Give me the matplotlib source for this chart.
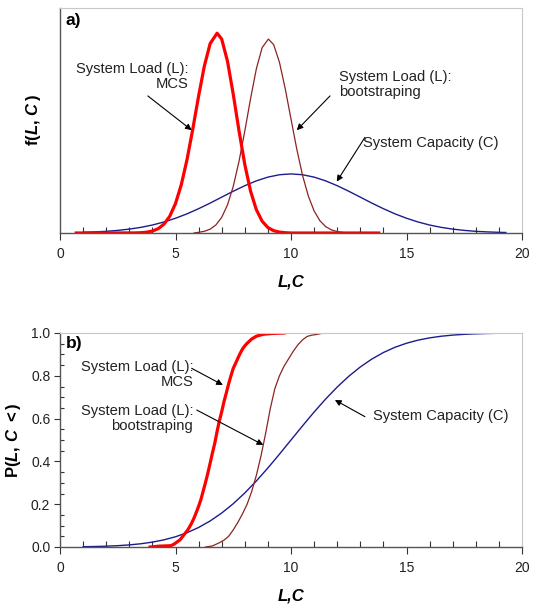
import matplotlib
matplotlib.use("Agg")
import matplotlib.pyplot as plt
from matplotlib.ticker import MultipleLocator, NullLocator

plt.rcParams['font.family'] = ['Liberation Sans', 'DejaVu Sans']
plt.rcParams['mathtext.fontset'] = 'custom'
plt.rcParams['mathtext.rm'] = 'Liberation Sans:bold'
plt.rcParams['mathtext.it'] = 'Liberation Sans:bold:italic'
plt.rcParams['mathtext.bf'] = 'Liberation Sans:bold'

# ---------------- panel a) : densities ----------------
pdf_mcs_x = [0.7, 3.25, 3.5, 3.75, 4.0, 4.25, 4.5, 4.75, 5.0, 5.25, 5.5, 5.75, 6.0, 6.25,
             6.5, 6.8, 7.0, 7.25, 7.5, 7.75, 8.0, 8.25, 8.5, 8.75, 9.0, 9.25, 9.5, 9.75,
             10.0, 13.8]
pdf_mcs_y = [0.0, 0.0002, 0.0007, 0.0018, 0.0043, 0.0095, 0.0195, 0.037, 0.0653, 0.107,
             0.163, 0.231, 0.3035, 0.3705, 0.420, 0.443, 0.430, 0.381, 0.3077, 0.2265,
             0.1519, 0.0928, 0.0517, 0.0262, 0.0121, 0.0051, 0.002, 0.0007, 0.0, 0.0]

pdf_boot_x = [5.8, 6.0, 6.25, 6.5, 6.75, 7.0, 7.25, 7.5, 7.75, 8.0, 8.25, 8.5, 8.75, 9.02,
              9.25, 9.5, 9.75, 10.0, 10.25, 10.5, 10.75, 11.0, 11.25, 11.5, 11.75, 12.0,
              12.25, 12.5]
pdf_boot_y = [0.0, 0.0015, 0.0038, 0.0085, 0.0179, 0.0347, 0.0622, 0.1033, 0.159, 0.226,
              0.298, 0.364, 0.411, 0.430, 0.4176, 0.3785, 0.320, 0.2526, 0.186, 0.1278,
              0.0819, 0.049, 0.0273, 0.0142, 0.0069, 0.0031, 0.0012, 0.0]

pdf_cap_x = [1.0, 1.5, 2.0, 2.5, 3.0, 3.5, 4.0, 4.5, 5.0, 5.5, 6.0, 6.5, 7.0, 7.5, 8.0,
             8.5, 9.0, 9.5, 10.0, 10.5, 11.0, 11.5, 12.0, 12.5, 13.0, 13.5, 14.0, 14.5,
             15.0, 15.5, 16.0, 16.5, 17.0, 17.5, 18.0, 18.5, 19.0, 19.3]
pdf_cap_y = [0.0015, 0.0024, 0.0037, 0.0058, 0.0086, 0.0125, 0.0177, 0.0244, 0.0327,
             0.0425, 0.0539, 0.0663, 0.0795, 0.0926, 0.1049, 0.1156, 0.1239, 0.1292,
             0.131, 0.1292, 0.1239, 0.1156, 0.1049, 0.0926, 0.0795, 0.0663, 0.0539,
             0.0425, 0.0327, 0.0244, 0.0177, 0.0125, 0.0086, 0.0058, 0.0037, 0.0024,
             0.0015, 0.0011]

# ---------------- panel b) : cumulative ----------------
cdf_mcs_x = [3.9, 4.3, 4.8, 4.95, 5.1, 5.2, 5.3, 5.4, 5.5, 5.6, 5.7, 5.8, 5.9, 6.0, 6.1,
             6.2, 6.3, 6.4, 6.5, 6.6, 6.7, 6.8, 6.9, 7.0, 7.1, 7.2, 7.3, 7.4, 7.5, 7.6,
             7.7, 7.8, 7.9, 8.0, 8.1, 8.3, 8.5, 8.8, 9.2, 9.7]
cdf_mcs_y = [0.0, 0.004, 0.006, 0.014, 0.026, 0.034, 0.048, 0.062, 0.075, 0.092, 0.112,
             0.135, 0.162, 0.19, 0.222, 0.262, 0.302, 0.345, 0.392, 0.44, 0.485, 0.54,
             0.59, 0.632, 0.68, 0.72, 0.762, 0.80, 0.835, 0.858, 0.882, 0.905, 0.925,
             0.94, 0.952, 0.972, 0.985, 0.994, 0.998, 1.0]

cdf_boot_x = [6.3, 6.6, 6.9, 7.1, 7.3, 7.5, 7.7, 7.9, 8.1, 8.3, 8.5, 8.7, 8.9, 9.1, 9.3,
              9.5, 9.7, 9.9, 10.1, 10.3, 10.5, 10.7, 10.9, 11.1, 11.4]
cdf_boot_y = [0.0, 0.005, 0.02, 0.032, 0.05, 0.08, 0.115, 0.155, 0.2, 0.26, 0.335, 0.425,
              0.53, 0.645, 0.74, 0.80, 0.845, 0.88, 0.915, 0.945, 0.968, 0.984, 0.99,
              0.993, 1.0]

cdf_cap_x = pdf_cap_x
cdf_cap_y = [0.0014, 0.0023, 0.0038, 0.0062, 0.0098, 0.0151, 0.0228, 0.0334, 0.0478,
             0.0668, 0.0912, 0.1217, 0.1587, 0.2023, 0.2525, 0.3085, 0.3694, 0.4338,
             0.5, 0.5662, 0.6306, 0.6915, 0.7475, 0.7977, 0.8413, 0.8783, 0.9088,
             0.9332, 0.9522, 0.9666, 0.9772, 0.9849, 0.9902, 0.9938, 0.9962, 0.9977,
             0.9987, 0.9991]

RED = '#ff0000'
BROWN = '#8b2323'
BLUE = '#1c1c8c'

fig = plt.figure(figsize=(5.36, 6.09), dpi=100)
ax1 = fig.add_axes([60/536, 1-233/609, 462/536, 225.5/609])
ax2 = fig.add_axes([60/536, 1-547/609, 462/536, 214/609])

def style(ax):
    ax.set_xlim(0, 20)
    ax.xaxis.set_major_locator(MultipleLocator(5))
    ax.xaxis.set_minor_locator(MultipleLocator(1))
    ax.tick_params(axis='x', which='major', direction='out', length=5, width=0.8,
                   colors='#333333', labelsize=10, pad=5, labelcolor='#222222')
    ax.tick_params(axis='x', which='minor', direction='in', length=4, width=0.8,
                   colors='#333333')
    for s in ('left', 'bottom'):
        ax.spines[s].set_color('#555555')
        ax.spines[s].set_linewidth(1.0)
    for s in ('top', 'right'):
        ax.spines[s].set_color('#c8c8c8')
        ax.spines[s].set_linewidth(0.8)
    ax.set_xlabel('L,C', fontsize=12, fontweight='bold', style='italic', labelpad=10)

arrow = dict(arrowstyle='-|>', color='black', lw=0.8, mutation_scale=9,
             shrinkA=0, shrinkB=0)
fs = 10.6

# panel a
ax1.plot(pdf_cap_x, pdf_cap_y, color=BLUE, lw=1.0)
ax1.plot(pdf_boot_x, pdf_boot_y, color=BROWN, lw=0.9)
ax1.plot(pdf_mcs_x, pdf_mcs_y, color=RED, lw=2.3)
ax1.set_ylim(0, 0.5)
ax1.yaxis.set_major_locator(NullLocator())
style(ax1)
ax1.set_ylabel(r'$\mathrm{f(}\mathit{L}\mathrm{,}\ \mathit{C}\,\mathrm{)}$', fontsize=12, labelpad=12)
ax1.text(0.012, 0.975, 'a)', transform=ax1.transAxes, fontsize=12.5, fontweight='bold',
         va='top', ha='left')
ax1.annotate('', xy=(5.70, 0.228), xytext=(3.80, 0.304), arrowprops=arrow)
ax1.text(5.55, 0.348, 'System Load (L):\nMCS', ha='right', va='center', fontsize=fs,
         multialignment='right', linespacing=1.1, color='#222222')
ax1.annotate('', xy=(10.25, 0.228), xytext=(11.69, 0.304), arrowprops=arrow)
ax1.text(12.09, 0.330, 'System Load (L):\nbootstraping', ha='left', va='center',
         fontsize=fs, linespacing=1.1, color='#222222')
ax1.annotate('', xy=(11.98, 0.114), xytext=(13.2, 0.212), arrowprops=arrow)
ax1.text(13.13, 0.199, 'System Capacity (C)', ha='left', va='center', fontsize=fs,
         color='#222222')

# panel b
ax2.plot(cdf_cap_x, cdf_cap_y, color=BLUE, lw=1.0)
ax2.plot(cdf_boot_x, cdf_boot_y, color=BROWN, lw=0.9)
ax2.plot(cdf_mcs_x, cdf_mcs_y, color=RED, lw=2.3)
ax2.set_ylim(0, 1.0)
ax2.yaxis.set_major_locator(MultipleLocator(0.2))
ax2.yaxis.set_minor_locator(MultipleLocator(0.05))
ax2.yaxis.set_major_formatter(matplotlib.ticker.FormatStrFormatter('%.1f'))
ax2.tick_params(axis='y', which='major', direction='out', length=4, width=0.8,
                colors='#333333', labelsize=10, pad=3, labelcolor='#222222')
ax2.tick_params(axis='y', which='minor', direction='in', length=3, width=0.8,
                colors='#333333')
style(ax2)
ax2.set_ylabel(r'$\mathrm{P(}\mathit{L}\mathrm{,}\ \mathit{C}\ \mathrm{<)}$', fontsize=12, labelpad=6)
ax2.text(0.012, 0.985, 'b)', transform=ax2.transAxes, fontsize=12.5, fontweight='bold',
         va='top', ha='left')
ax2.annotate('', xy=(7.05, 0.757), xytext=(5.70, 0.835), arrowprops=arrow)
ax2.text(5.77, 0.808, 'System Load (L):\nMCS', ha='right', va='center', fontsize=fs,
         multialignment='right', linespacing=1.1, color='#222222')
ax2.annotate('', xy=(8.80, 0.477), xytext=(5.92, 0.640), arrowprops=arrow)
ax2.text(5.77, 0.601, 'System Load (L):\nbootstraping', ha='right', va='center',
         fontsize=fs, multialignment='right', linespacing=1.1, color='#222222')
ax2.annotate('', xy=(11.9, 0.687), xytext=(13.2, 0.609), arrowprops=arrow)
ax2.text(13.56, 0.614, 'System Capacity (C)', ha='left', va='center', fontsize=fs,
         color='#222222')

fig.savefig('out.png', dpi=100)
